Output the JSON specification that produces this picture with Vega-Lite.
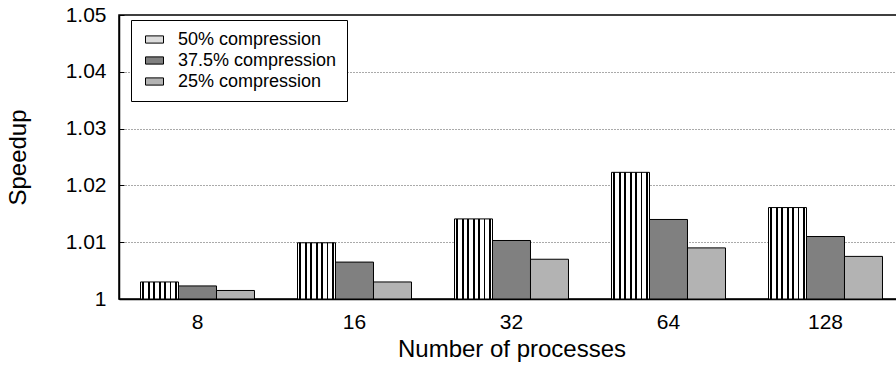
{
  "$schema": "https://vega.github.io/schema/vega-lite/v6.json",
  "width": 785,
  "height": 284,
  "autosize": {"type": "none"},
  "padding": {"left": 119, "top": 15, "right": 0, "bottom": 67},
  "background": "white",
  "config": {
    "font": "Liberation Sans",
    "view": {"stroke": "black", "strokeWidth": 1.5},
    "axis": {"labelColor": "black", "titleColor": "black", "domainColor": "black", "labelFont": "Liberation Sans", "titleFont": "Liberation Sans", "titleFontWeight": "normal"}
  },
  "data": {
    "values": [
      {"processes": "8", "series": "50% compression", "speedup": 1.0030},
      {"processes": "8", "series": "37.5% compression", "speedup": 1.0023},
      {"processes": "8", "series": "25% compression", "speedup": 1.0015},
      {"processes": "16", "series": "50% compression", "speedup": 1.0099},
      {"processes": "16", "series": "37.5% compression", "speedup": 1.0065},
      {"processes": "16", "series": "25% compression", "speedup": 1.0030},
      {"processes": "32", "series": "50% compression", "speedup": 1.0141},
      {"processes": "32", "series": "37.5% compression", "speedup": 1.0103},
      {"processes": "32", "series": "25% compression", "speedup": 1.0070},
      {"processes": "64", "series": "50% compression", "speedup": 1.0223},
      {"processes": "64", "series": "37.5% compression", "speedup": 1.0140},
      {"processes": "64", "series": "25% compression", "speedup": 1.0090},
      {"processes": "128", "series": "50% compression", "speedup": 1.0161},
      {"processes": "128", "series": "37.5% compression", "speedup": 1.0110},
      {"processes": "128", "series": "25% compression", "speedup": 1.0075}
    ]
  },
  "mark": {"type": "bar", "stroke": "black", "strokeWidth": 1},
  "encoding": {
    "x": {
      "field": "processes", "type": "ordinal", "sort": ["8", "16", "32", "64", "128"],
      "scale": {"paddingInner": 0.274, "paddingOuter": 0.137},
      "axis": {"title": "Number of processes", "labelAngle": 0, "labelFontSize": 21, "titleFontSize": 24, "ticks": false, "labelPadding": 12, "titlePadding": 5, "domainWidth": 1.5, "grid": false}
    },
    "xOffset": {
      "field": "series", "type": "nominal", "sort": ["50% compression", "37.5% compression", "25% compression"],
      "scale": {"paddingInner": 0, "paddingOuter": 0}
    },
    "y": {
      "field": "speedup", "type": "quantitative",
      "scale": {"domain": [1, 1.05], "zero": false, "nice": false},
      "axis": {
        "title": "Speedup", "values": [1, 1.01, 1.02, 1.03, 1.04, 1.05], "format": "~g",
        "labelFontSize": 21, "titleFontSize": 24, "tickSize": -5, "tickColor": "black", "labelPadding": 18,
        "grid": true, "gridColor": "#555", "gridDash": [1, 2],
        "gridOpacity": {"condition": {"test": "datum.value >= 1.045 || datum.value <= 1.005", "value": 0}, "value": 1},
        "titlePadding": 35, "domainWidth": 1.5
      }
    },
    "y2": {"datum": 1},
    "fill": {
      "field": "series", "type": "nominal",
      "condition": {
        "test": "datum.series === '50% compression'",
        "value": {"gradient": "linear", "x1": 0, "y1": 0, "x2": 1, "y2": 0, "stops": [
          {"offset": 0, "color": "white"}, {"offset": 0.05, "color": "white"}, {"offset": 0.05, "color": "black"}, {"offset": 0.1, "color": "black"}, {"offset": 0.1, "color": "white"},
          {"offset": 0.193, "color": "white"}, {"offset": 0.193, "color": "black"}, {"offset": 0.243, "color": "black"}, {"offset": 0.243, "color": "white"},
          {"offset": 0.336, "color": "white"}, {"offset": 0.336, "color": "black"}, {"offset": 0.386, "color": "black"}, {"offset": 0.386, "color": "white"},
          {"offset": 0.479, "color": "white"}, {"offset": 0.479, "color": "black"}, {"offset": 0.529, "color": "black"}, {"offset": 0.529, "color": "white"},
          {"offset": 0.621, "color": "white"}, {"offset": 0.621, "color": "black"}, {"offset": 0.671, "color": "black"}, {"offset": 0.671, "color": "white"},
          {"offset": 0.764, "color": "white"}, {"offset": 0.764, "color": "black"}, {"offset": 0.814, "color": "black"}, {"offset": 0.814, "color": "white"},
          {"offset": 0.907, "color": "white"}, {"offset": 0.907, "color": "black"}, {"offset": 0.957, "color": "black"}, {"offset": 0.957, "color": "white"},
          {"offset": 1, "color": "white"}
        ]}
      },
      "scale": {"domain": ["50% compression", "37.5% compression", "25% compression"], "range": ["#dcdcdc", "#808080", "#b3b3b3"]},
      "legend": {
        "title": null, "orient": "none", "legendX": 12, "legendY": 5,
        "strokeColor": "black", "fillColor": "white", "padding": 10, "cornerRadius": 0,
        "labelFontSize": 18, "labelFont": "Liberation Sans", "labelColor": "black", "labelOffset": 14, "symbolOffset": 4,
        "symbolType": "M-1,-0.4H1V0.4H-1Z", "symbolSize": 324, "symbolStrokeColor": "black", "symbolStrokeWidth": 1, "symbolOpacity": 1,
        "rowPadding": 2
      }
    }
  }
}
